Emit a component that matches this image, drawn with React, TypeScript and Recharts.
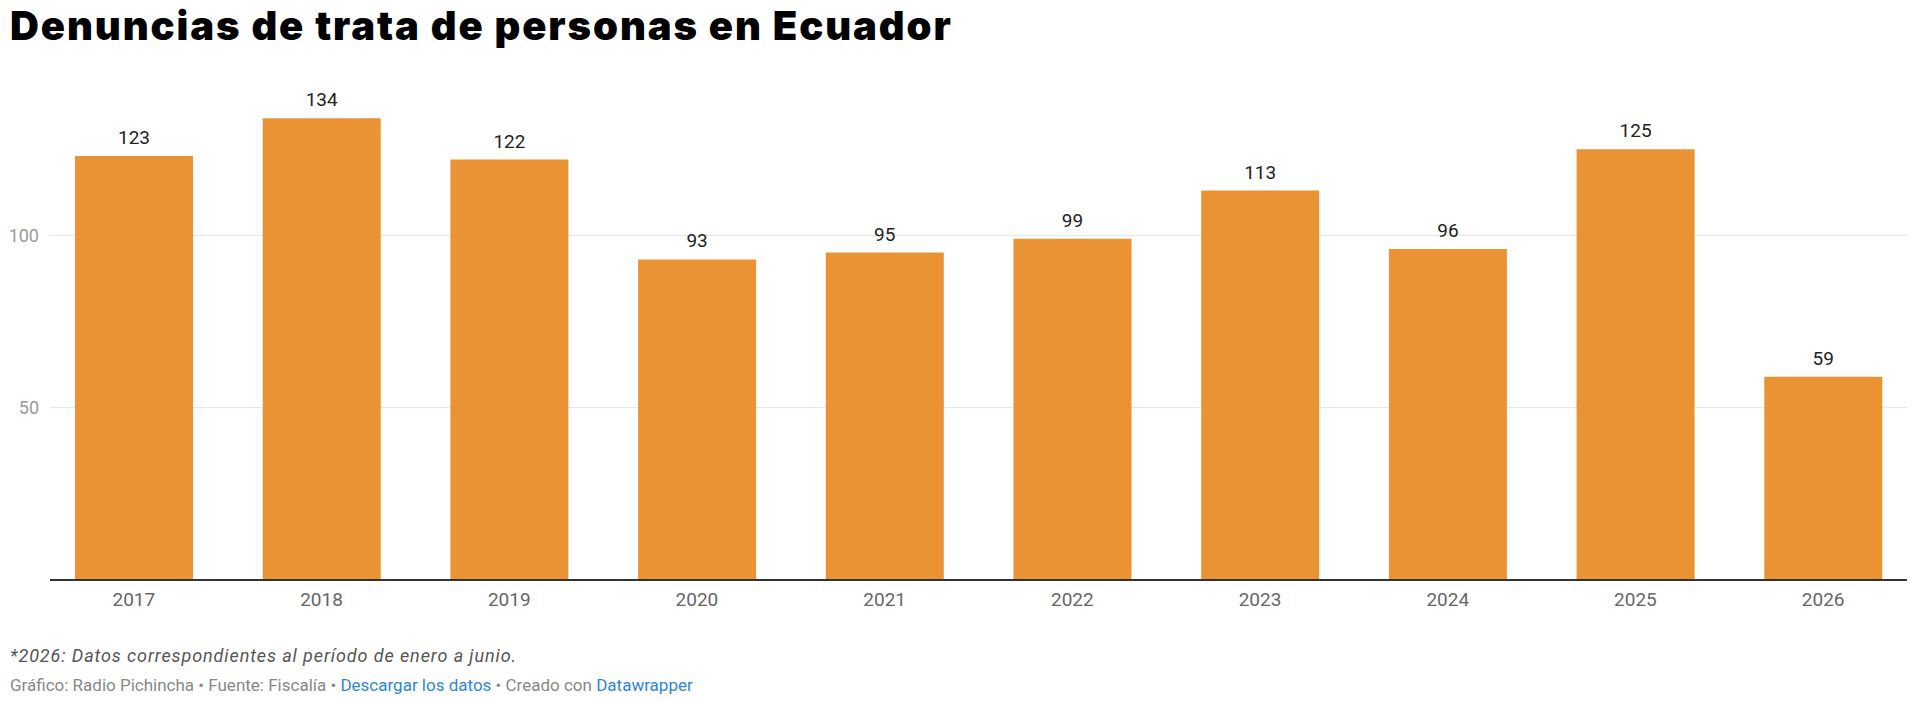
// Denuncias de trata de personas en Ecuador — Datawrapper-style column chart
import { Bar, BarChart, CartesianGrid, LabelList, XAxis, YAxis } from "recharts";

const YEARS = ["2017", "2018", "2019", "2020", "2021", "2022", "2023", "2024", "2025", "2026"];
const DENUNCIAS = [123, 134, 122, 93, 95, 99, 113, 96, 125, 59];
const Y_TICKS = [50, 100];

const ORANGE = "#EA9334";
const FONT = "Roboto, 'Noto Sans', sans-serif";

const data = YEARS.map((year, i) => ({ year, value: DENUNCIAS[i] }));

export default function App() {
  return (
    <div style={{ position: "fixed", left: 0, top: 0, width: 1920, height: 702, background: "#fff", fontFamily: FONT }}>
      <div
        style={{
          position: "absolute", left: 10, top: 1, fontFamily: "Inter, sans-serif", fontWeight: 900,
          fontSize: 40, color: "#000", letterSpacing: 1.9, whiteSpace: "nowrap",
        }}
      >
        Denuncias de trata de personas en Ecuador
      </div>

      <div style={{ position: "absolute", left: 0, top: 0 }}>
        <BarChart width={1920} height={620} data={data} margin={{ top: 63, right: 13, bottom: 0, left: 0 }}>
          <CartesianGrid vertical={false} horizontalValues={Y_TICKS} stroke="#e3e3e3" strokeWidth={1} />
          <YAxis
            domain={[0, 150]} ticks={Y_TICKS} width={50} axisLine={false} tickLine={false}
            tickSize={0} tickMargin={11} tick={{ fill: "#9a9a9a", fontSize: 18, fontFamily: FONT }}
          />
          <XAxis
            dataKey="year" height={40} padding={{ left: -10, right: -10 }} tickLine={false}
            tickSize={0} tickMargin={13} axisLine={{ stroke: "#333", strokeWidth: 2 }}
            tick={{ fill: "#666", fontSize: 19, fontFamily: FONT }}
          />
          <Bar dataKey="value" fill={ORANGE} barSize={118} isAnimationActive={false}>
            <LabelList dataKey="value" position="top" offset={12} fill="#222" fontSize={19} fontFamily={FONT} />
          </Bar>
        </BarChart>
      </div>

      <div
        style={{
          position: "absolute", left: 10, top: 645, fontSize: 18, fontStyle: "italic", color: "#555",
          letterSpacing: 0.9, whiteSpace: "nowrap",
        }}
      >
        *2026: Datos correspondientes al período de enero a junio.
      </div>
      <div style={{ position: "absolute", left: 10, top: 675, fontSize: 17, color: "#888", whiteSpace: "nowrap" }}>
        Gráfico: Radio Pichincha • Fuente: Fiscalía •{" "}
        <span style={{ color: "#2f86cf" }}>Descargar los datos</span> • Creado con{" "}
        <span style={{ color: "#2f86cf" }}>Datawrapper</span>
      </div>
    </div>
  );
}
